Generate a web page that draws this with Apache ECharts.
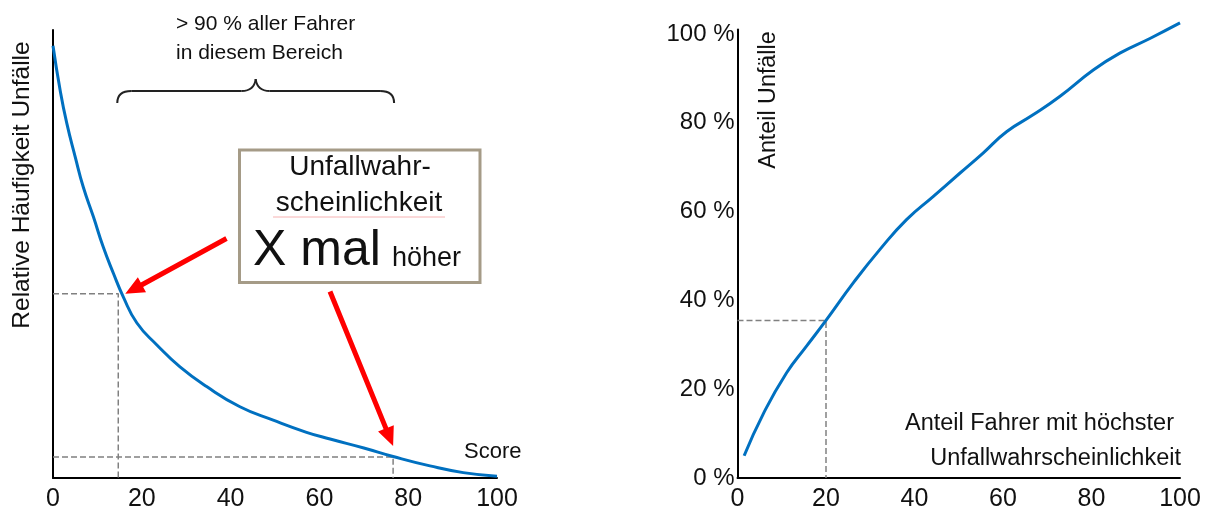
<!DOCTYPE html>
<html>
<head>
<meta charset="utf-8">
<script src="https://cdn.jsdelivr.net/npm/echarts@6/dist/echarts.min.js"></script>
<style>
html,body{margin:0;padding:0;background:#fff;}
#c{width:1209px;height:516px;}
</style>
</head>
<body>
<div id="c"></div>
<script>
// Left chart: relative frequency of accidents vs. score
const leftX = [0, 1.6, 3.1, 5.0, 6.8, 9.1, 11.3, 13.6, 15.8, 18.9, 23.4, 28.6, 34.6, 42.1, 49.6, 57.1, 62.4, 70, 76.6, 84.9, 92.4, 100];
const leftY = [96.5, 86.6, 79.2, 71.7, 65.0, 58.3, 51.6, 45.7, 40.5, 34.6, 29.7, 24.8, 20.4, 15.9, 12.9, 10.2, 8.7, 6.7, 4.8, 2.7, 1.2, 0.4];
const leftRefA = [14.7, 41.1];
const leftRefB = [76.6, 4.7];

// Right chart: share of accidents vs. share of drivers
const rightX = [1.5, 5.8, 11.1, 15.6, 20, 26.2, 32.2, 38.2, 44.2, 50.3, 55.5, 60.8, 66.8, 72.9, 80.4, 86.4, 93.2, 100];
const rightY = [5.0, 14.4, 23.7, 29.7, 35.5, 44.0, 51.5, 58.2, 63.4, 68.7, 73.2, 78.0, 81.8, 86.0, 91.9, 95.7, 99.0, 102.5];
const rightRef = [20, 35.5];

const xTicks = [0, 20, 40, 60, 80, 100];
const yTicksRight = [0, 20, 40, 60, 80, 100];

const FONT = "'Liberation Sans', Arial, sans-serif";
const BLUE = '#0070C0';
const GRAY = '#808080';

const zip = (xs, ys) => xs.map((x, i) => [x, ys[i]]);
const dashPath = p => [[0, p[1]], [p[0], p[1]], [p[0], 0]];

const chart = echarts.init(document.getElementById('c'), null, {renderer: 'canvas'});

const axisLine = {show: true, onZero: false, lineStyle: {color: '#000', width: 2}};
const xAxisBase = {
  type: 'value', min: 0, max: 100, interval: 20,
  axisLine: axisLine, axisTick: {show: false}, splitLine: {show: false},
  axisLabel: {
    color: '#111', fontFamily: FONT, fontSize: 25, margin: 9,
    formatter: v => xTicks.indexOf(v) >= 0 ? String(v) : ''
  }
};

chart.setOption({
  animation: false,
  grid: [
    {left: 53, top: 30, width: 444, height: 448},
    {left: 737.5, top: 29.6, width: 442.5, height: 448.4}
  ],
  xAxis: [
    Object.assign({gridIndex: 0}, xAxisBase),
    Object.assign({gridIndex: 1}, xAxisBase)
  ],
  yAxis: [
    {gridIndex: 0, type: 'value', min: 0, max: 100,
     axisLine: axisLine, axisTick: {show: false}, splitLine: {show: false}, axisLabel: {show: false}},
    {gridIndex: 1, type: 'value', min: 0, max: 101, interval: 20,
     axisLine: axisLine, axisTick: {show: false}, splitLine: {show: false},
     axisLabel: {color: '#111', fontFamily: FONT, fontSize: 24, margin: 3,
       formatter: v => yTicksRight.indexOf(v) >= 0 ? v + ' %' : ''}}
  ],
  series: [
    {type: 'line', xAxisIndex: 0, yAxisIndex: 0, data: dashPath(leftRefA), symbol: 'none',
     lineStyle: {color: GRAY, width: 1.5, type: [6, 3]}, z: 1},
    {type: 'line', xAxisIndex: 0, yAxisIndex: 0, data: dashPath(leftRefB), symbol: 'none',
     lineStyle: {color: GRAY, width: 1.5, type: [6, 3]}, z: 1},
    {type: 'line', xAxisIndex: 0, yAxisIndex: 0, data: zip(leftX, leftY), symbol: 'none',
     smooth: 0.5, clip: false, lineStyle: {color: BLUE, width: 3}, z: 3},
    {type: 'line', xAxisIndex: 1, yAxisIndex: 1, data: dashPath(rightRef), symbol: 'none',
     lineStyle: {color: GRAY, width: 1.5, type: [6, 3]}, z: 1},
    {type: 'line', xAxisIndex: 1, yAxisIndex: 1, data: zip(rightX, rightY), symbol: 'none',
     smooth: 0.5, clip: false, lineStyle: {color: BLUE, width: 3}, z: 3}
  ]
});

// annotations positioned via the chart's own coordinate conversion
const pA = chart.convertToPixel({gridIndex: 0}, leftRefA);
const pB = chart.convertToPixel({gridIndex: 0}, leftRefB);

function arrow(tail, tip, shaftW, headW, headL) {
  const dx = tip[0] - tail[0], dy = tip[1] - tail[1];
  const len = Math.sqrt(dx * dx + dy * dy);
  const ux = dx / len, uy = dy / len, nx = -uy, ny = ux;
  const bx = tip[0] - ux * headL, by = tip[1] - uy * headL;
  return [
    [tail[0] + nx * shaftW / 2, tail[1] + ny * shaftW / 2],
    [bx + nx * shaftW / 2, by + ny * shaftW / 2],
    [bx + nx * headW / 2, by + ny * headW / 2],
    tip,
    [bx - nx * headW / 2, by - ny * headW / 2],
    [bx - nx * shaftW / 2, by - ny * shaftW / 2],
    [tail[0] - nx * shaftW / 2, tail[1] - ny * shaftW / 2]
  ];
}

const bl = pA[0] - 1, br = pB[0] + 1, bm = (bl + br) / 2;
const braceStyle = {stroke: '#222', lineWidth: 2, fill: 'none'};
const bez = (x1, y1, c1x, c1y, c2x, c2y, x2, y2) => ({
  type: 'bezierCurve', z: 20, style: braceStyle,
  shape: {x1: x1, y1: y1, cpx1: c1x, cpy1: c1y, cpx2: c2x, cpy2: c2y, x2: x2, y2: y2}
});
const seg = (x1, y1, x2, y2) => ({type: 'line', z: 20, style: braceStyle, shape: {x1: x1, y1: y1, x2: x2, y2: y2}});
const brace = [
  bez(bl, 103, bl, 95, bl + 4, 91, bl + 14, 91),
  seg(bl + 14, 91, bm - 14, 91),
  bez(bm - 14, 91, bm - 6, 91, bm - 1, 87, bm, 79),
  bez(bm, 79, bm + 1, 87, bm + 6, 91, bm + 14, 91),
  seg(bm + 14, 91, br - 14, 91),
  bez(br - 14, 91, br - 4, 91, br, 95, br, 103)
];

const wave = [];
for (let x = 273; x <= 445; x += 2) wave.push([x, 216 + ((x / 2) % 2 === 0 ? -1 : 1)]);

const txt = (text, x, y, size, align, extra) => Object.assign({
  type: 'text', x: x, y: y, z: 20,
  style: {text: text, font: `${size}px ${FONT}`, fill: '#111', textAlign: align, textVerticalAlign: 'middle'}
}, extra || {});

chart.setOption({
  graphic: [
    txt('Relative Häufigkeit Unfälle', 22.5, 185, 24.5, 'center', {rotation: Math.PI / 2}),
    txt('> 90 % aller Fahrer', 176, 24, 21, 'left'),
    txt('in diesem Bereich', 176, 53, 21, 'left'),
    ...brace,
    {type: 'rect', z: 18, shape: {x: 239.5, y: 150, width: 240.5, height: 132.5},
     style: {fill: '#fff', stroke: '#a59b87', lineWidth: 3}},
    txt('Unfallwahr-', 360, 167, 28, 'center'),
    txt('scheinlichkeit', 359, 203, 28, 'center'),
    {type: 'polyline', z: 21, shape: {points: wave}, style: {stroke: '#f4a0a0', lineWidth: 0.8, fill: 'none'}},
    txt('X mal', 253, 251, 50, 'left'),
    txt('höher', 392, 259, 27, 'left'),
    {type: 'polygon', z: 22, shape: {points: arrow([226.5, 238.5], [pA[0] + 7, pA[1]], 5, 17, 19)}, style: {fill: '#ff0000'}},
    {type: 'polygon', z: 22, shape: {points: arrow([330, 291.5], [pB[0], pB[1] - 11], 5, 17, 19)}, style: {fill: '#ff0000'}},
    txt('Score', 464, 452, 22, 'left'),
    txt('Anteil Unfälle', 769, 100, 23.3, 'center', {rotation: Math.PI / 2}),
    txt('Anteil Fahrer mit höchster', 1174, 424, 23.5, 'right'),
    txt('Unfallwahrscheinlichkeit', 1181, 459, 23.5, 'right')
  ]
});
</script>
</body>
</html>
